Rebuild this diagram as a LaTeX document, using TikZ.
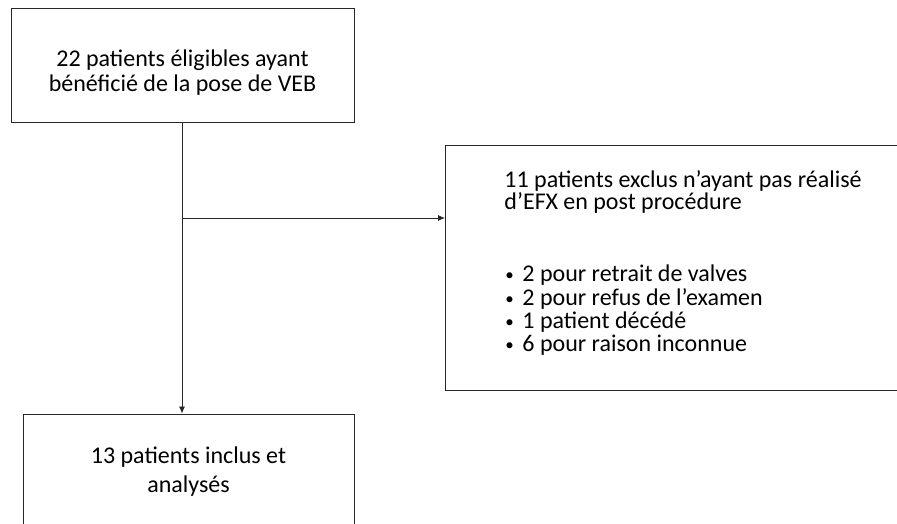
\documentclass[tikz,border=0pt]{standalone}
\usepackage{fontspec}
\setmainfont{Carlito}
\usetikzlibrary{arrows.meta}
\newcommand\blt{\hspace*{1pt}\makebox[17pt][l]{\fontsize{17}{17}\selectfont\raisebox{1pt}{•}}}
\begin{document}
\begin{tikzpicture}[x=1pt,y=-1pt,
  box/.style={draw=black!85,line width=0.9pt,inner sep=0pt,font=\fontsize{24}{25}\selectfont},
  arr/.style={draw=black!85,line width=0.8pt,-{Latex[length=7pt,width=6pt]}}]
\clip(0,0)rectangle(897,524);
\fill[white](0,0)rectangle(897,524);
\node[box,minimum width=343,minimum height=114,align=center,text height=57pt](top)at(182.5,65){22 patients éligibles ayant\\bénéficié de la pose de VEB};
\node[box,minimum width=331,minimum height=116,align=center,font=\fontsize{24}{29}\selectfont](incl)at(188.5,472){13 patients inclus et\\analysés};
\node[box,minimum width=460,minimum height=245,anchor=north west](excl)at(445,145){%
\hspace*{59pt}\raisebox{5pt}[\height][\depth]{\parbox[t]{401pt}{\raggedright\baselineskip=22.5pt
11 patients exclus n’ayant pas réalisé\\d’EFX en post procédure\\[49pt]
\baselineskip=23.3pt
\blt 2 pour retrait de valves\\
\blt 2 pour refus de l’examen\\
\blt 1 patient décédé\\
\blt 6 pour raison inconnue}}};
\coordinate(branch)at(182,218);
\draw[arr](top.south-|branch)--(branch|-incl.north);
\draw[arr](branch)--(branch-|excl.west);
\end{tikzpicture}
\end{document}
